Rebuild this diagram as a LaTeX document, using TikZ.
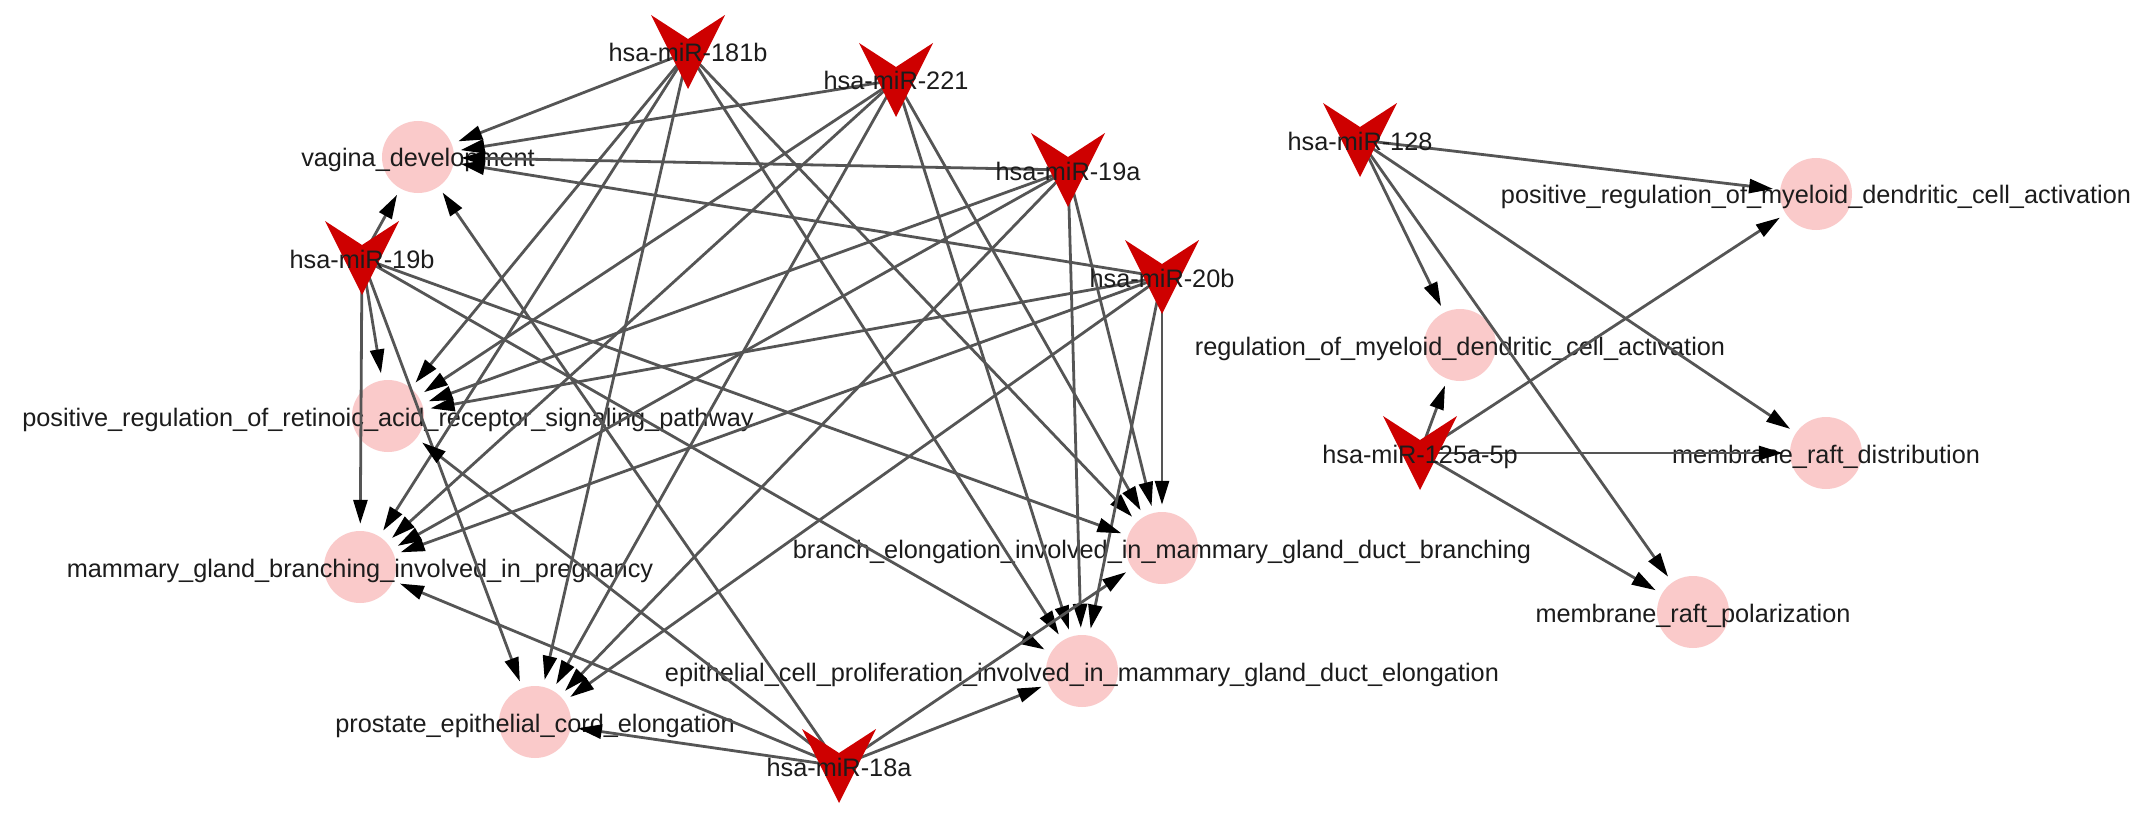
\documentclass[tikz,border=0pt]{standalone}
\usepackage{fontspec}
\setmainfont{Liberation Sans}
\usetikzlibrary{arrows.meta,calc}
\definecolor{pinknode}{RGB}{250,202,202}
\definecolor{vred}{RGB}{206,0,0}
\definecolor{edgegray}{RGB}{85,85,85}
\definecolor{txt}{RGB}{28,28,28}
\newcommand\drawvee[1]{\fill[vred] ($(#1)+(-37,-37)$) -- ($(#1)+(0,-13)$) -- ($(#1)+(37,-37)$) -- ($(#1)+(0,37)$) -- cycle;}
\begin{document}
\begin{tikzpicture}[x=1pt,y=-1pt,
  tgt/.style={circle,fill=pinknode,minimum size=72pt,inner sep=0pt},
  lbl/.style={font=\fontsize{25.3}{28}\selectfont,text=txt,inner sep=0pt,anchor=base,yshift=-10pt},
  edge/.style={draw=edgegray,line width=2.8pt,shorten >=7pt,-{Triangle[length=24pt,width=14pt,color=black]}}]
\useasboundingbox[fill=white] (0,0) rectangle (2150,824);
% miRNA anchor points
\coordinate (m181b) at (688,52);
\coordinate (m221) at (896,80);
\coordinate (m19a) at (1068,170);
\coordinate (m20b) at (1162,277);
\coordinate (m19b) at (362,258);
\coordinate (m18a) at (839,766);
\coordinate (m128) at (1360,140);
\coordinate (m125) at (1420,453);
% target circles
\node[tgt] (VD) at (418,157) {};
\node[tgt] (RA) at (388,416) {};
\node[tgt] (MG) at (360,567) {};
\node[tgt] (PR) at (535,722) {};
\node[tgt] (BE) at (1162,548) {};
\node[tgt] (EP) at (1082,671) {};
\node[tgt] (PM) at (1816,194) {};
\node[tgt] (RM) at (1460,345) {};
\node[tgt] (MD) at (1826,453) {};
\node[tgt] (MP) at (1693,612) {};
% target labels
\node[lbl] (lVD) at (VD) {vagina\_development};
\node[lbl] (lRA) at (RA) {positive\_regulation\_of\_retinoic\_acid\_receptor\_signaling\_pathway};
\node[lbl] (lMG) at (MG) {mammary\_gland\_branching\_involved\_in\_pregnancy};
\node[lbl] (lPR) at (PR) {prostate\_epithelial\_cord\_elongation};
\node[lbl] (lBE) at (BE) {branch\_elongation\_involved\_in\_mammary\_gland\_duct\_branching};
\node[lbl] (lEP) at (EP) {epithelial\_cell\_proliferation\_involved\_in\_mammary\_gland\_duct\_elongation};
\node[lbl] (lPM) at (PM) {positive\_regulation\_of\_myeloid\_dendritic\_cell\_activation};
\node[lbl] (lRM) at (RM) {regulation\_of\_myeloid\_dendritic\_cell\_activation};
\node[lbl] (lMD) at (MD) {membrane\_raft\_distribution};
\node[lbl] (lMP) at (MP) {membrane\_raft\_polarization};
% edges
\foreach \m in {m181b,m221,m19a,m20b,m19b,m18a}
  \foreach \t in {VD,RA,MG,PR,BE,EP}
    \draw[edge] (\m) -- (\t);
\foreach \m in {m128,m125}
  \foreach \t in {PM,RM,MD,MP}
    \draw[edge] (\m) -- (\t);
% miRNA shapes
\drawvee{m181b}
\drawvee{m221}
\drawvee{m19a}
\drawvee{m20b}
\drawvee{m19b}
\drawvee{m18a}
\drawvee{m128}
\drawvee{m125}
% miRNA labels
\node[lbl] (l181b) at (m181b) {hsa-miR-181b};
\node[lbl] (l221) at (m221) {hsa-miR-221};
\node[lbl] (l19a) at (m19a) {hsa-miR-19a};
\node[lbl] (l20b) at (m20b) {hsa-miR-20b};
\node[lbl] (l19b) at (m19b) {hsa-miR-19b};
\node[lbl] (l18a) at (m18a) {hsa-miR-18a};
\node[lbl] (l128) at (m128) {hsa-miR-128};
\node[lbl] (l125) at (m125) {hsa-miR-125a-5p};
\end{tikzpicture}
\end{document}
